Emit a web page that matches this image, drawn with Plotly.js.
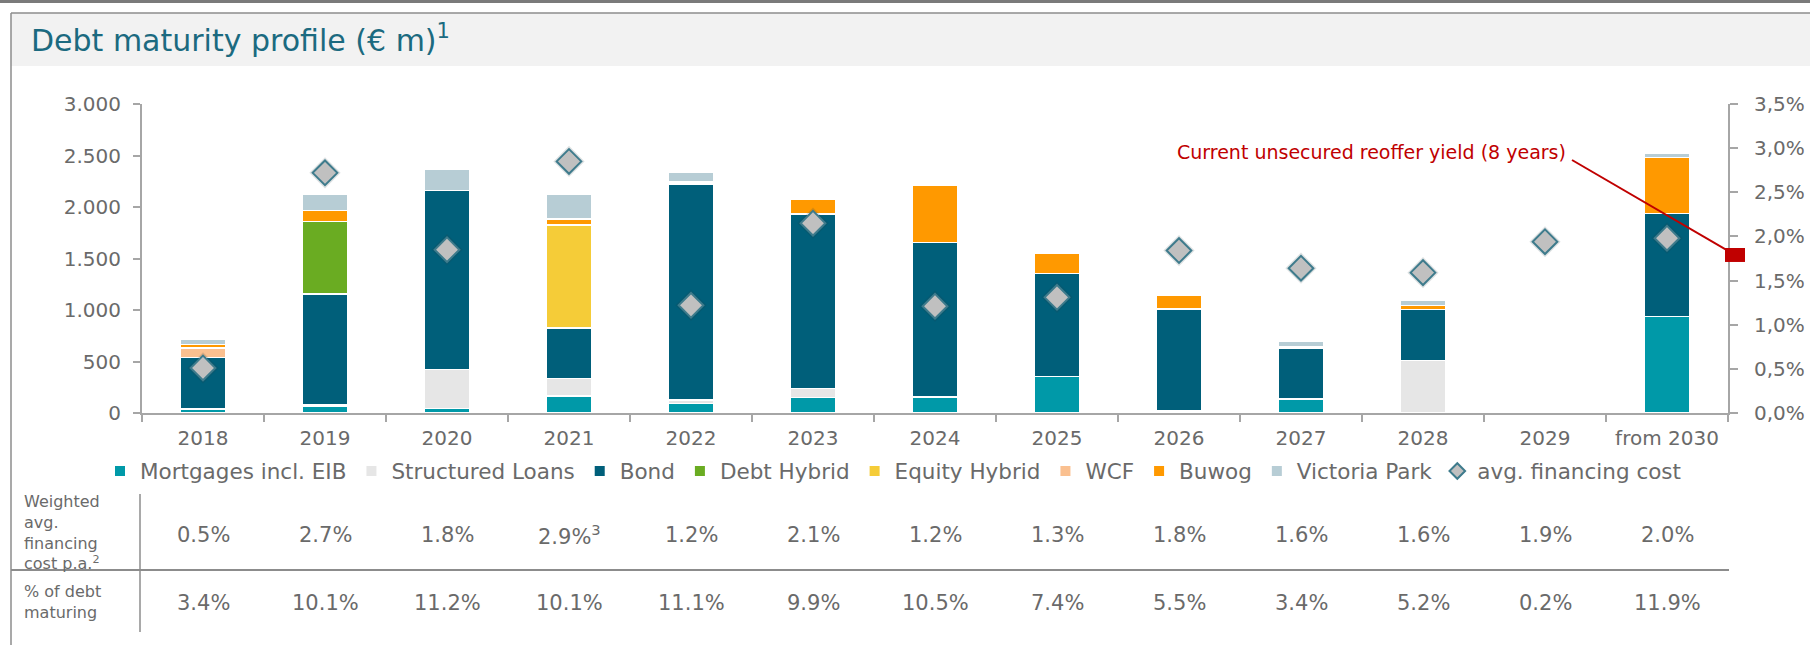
<!DOCTYPE html>
<html>
<head>
<meta charset="utf-8">
<script src="https://cdn.plot.ly/plotly-3.0.1.min.js"></script>
<style>html,body{margin:0;padding:0;background:#fff;}#chart{width:1810px;height:645px;}</style>
</head>
<body>
<div id="chart"></div>
<script>
// ---- data ----
var categories = ["2018","2019","2020","2021","2022","2023","2024","2025","2026","2027","2028","2029","from 2030"];
var mortgages      = [40, 70, 45, 165, 90, 150, 155, 355, 20, 135, 0, 0, 935];
var structuredLoans= [0, 10, 375, 170, 35, 90, 0, 0, 0, 0, 508, 12, 0];
var bond           = [500, 1075, 1738, 490, 2100, 1692, 1500, 1000, 990, 496, 495, 0, 1000];
var debtHybrid     = [0, 705, 0, 0, 0, 0, 0, 0, 0, 0, 0, 0, 0];
var equityHybrid   = [0, 0, 0, 1000, 0, 0, 0, 0, 0, 0, 0, 0, 0];
var wcf            = [90, 0, 0, 0, 20, 0, 0, 0, 0, 10, 0, 0, 0];
var buwog          = [35, 105, 0, 58, 0, 145, 560, 200, 130, 0, 40, 18, 545];
var victoriaPark   = [50, 155, 205, 242, 95, 0, 0, 0, 0, 55, 52, 0, 40];
var avgCost        = [0.51, 2.72, 1.85, 2.85, 1.22, 2.15, 1.21, 1.31, 1.84, 1.64, 1.59, 1.94, 1.98];
var reofferYield   = 1.79;
var costLabels     = ["0.5%","2.7%","1.8%","2.9%<sup>3</sup>","1.2%","2.1%","1.2%","1.3%","1.8%","1.6%","1.6%","1.9%","2.0%"];
var maturingLabels = ["3.4%","10.1%","11.2%","10.1%","11.1%","9.9%","10.5%","7.4%","5.5%","3.4%","5.2%","0.2%","11.9%"];

var FONT = "DejaVu Sans, Verdana, sans-serif";
var GREY = "#6a6a6a";

function barTrace(name, vals, color){
  return {type:"bar", name:name, x:categories, y:vals,
    marker:{color:color, line:{color:"#ffffff", width:1.5}},
    hoverinfo:"x+y+name"};
}
var traces = [
  barTrace("Mortgages incl. EIB", mortgages, "#0099a8"),
  barTrace("Structured Loans", structuredLoans, "#e6e6e6"),
  barTrace("Bond", bond, "#005f7a"),
  barTrace("Debt Hybrid", debtHybrid, "#6aac22"),
  barTrace("Equity Hybrid", equityHybrid, "#f5cc38"),
  barTrace("WCF", wcf, "#fac090"),
  barTrace("Buwog", buwog, "#ff9900"),
  barTrace("Victoria Park", victoriaPark, "#b7cdd5"),
  {type:"scatter", mode:"markers", name:"shadow", showlegend:false, hoverinfo:"skip",
    x:categories, y:avgCost, yaxis:"y2", cliponaxis:false,
    marker:{symbol:"diamond", size:24, color:"rgba(40,60,70,0.16)", line:{width:0}}},
  {type:"scatter", mode:"markers", name:"avg. financing cost", x:categories, y:avgCost, yaxis:"y2",
    cliponaxis:false,
    marker:{symbol:"diamond", size:19, color:"#c0c0c0", line:{color:"#3e7b8c", width:2}}}
];

// pixel helpers for layout positioning (plot area: x 142..1728, y 104..413)
function px(x){ return (x-142)/1586; }
function py(y){ return (413-y)/309; }

var annotations = [];
for (var i=0;i<categories.length;i++){
  annotations.push({xref:"x", yref:"paper", x:i, y:py(535), text:costLabels[i], showarrow:false,
    font:{family:FONT, size:21, color:GREY}, xanchor:"center", yanchor:"middle"});
  annotations.push({xref:"x", yref:"paper", x:i, y:py(603), text:maturingLabels[i], showarrow:false,
    font:{family:FONT, size:21, color:GREY}, xanchor:"center", yanchor:"middle"});
}
annotations.push({xref:"paper", yref:"paper", x:px(22), y:py(532), xanchor:"left", yanchor:"middle", align:"left",
  text:"Weighted<br>avg.<br>financing<br>cost p.a.<sup>2</sup>", showarrow:false,
  font:{family:FONT, size:16, color:GREY}});
annotations.push({xref:"paper", yref:"paper", x:px(22), y:py(602), xanchor:"left", yanchor:"middle", align:"left",
  text:"% of debt<br>maturing", showarrow:false, font:{family:FONT, size:16, color:GREY}});
annotations.push({xref:"paper", yref:"paper", x:px(1568), y:py(152), xanchor:"right", yanchor:"middle",
  text:"Current unsecured reoffer yield (8 years)", showarrow:false, font:{family:FONT, size:19, color:"#c00000"}});

var shapes = [
  {type:"rect", xref:"paper", yref:"paper", x0:px(0), x1:px(1810), y0:py(0), y1:py(3), fillcolor:"#7a7a7a", line:{width:0}, layer:"below"},
  {type:"rect", xref:"paper", yref:"paper", x0:px(11), x1:px(1810), y0:py(13), y1:py(66), fillcolor:"#f2f2f2", line:{width:0}, layer:"below"},
  {type:"line", xref:"paper", yref:"paper", x0:px(11), x1:px(1810), y0:py(13), y1:py(13), line:{color:"#8c8c8c", width:1.5}},
  {type:"line", xref:"paper", yref:"paper", x0:px(11), x1:px(11), y0:py(13), y1:py(645), line:{color:"#8c8c8c", width:1.5}},
  {type:"line", xref:"paper", yref:"paper", x0:px(140), x1:px(140), y0:py(494), y1:py(632), line:{color:"#8c8c8c", width:1.5}},
  {type:"line", xref:"paper", yref:"paper", x0:px(11), x1:px(1729), y0:py(570), y1:py(570), line:{color:"#8c8c8c", width:2}},
  {type:"line", xref:"paper", yref:"y2", x0:px(1572), x1:px(1735), y0:py(160)*3.5, y1:reofferYield, line:{color:"#c00000", width:2}},
  {type:"rect", xref:"paper", yref:"y2", xsizemode:"pixel", ysizemode:"pixel", xanchor:px(1735), yanchor:reofferYield,
    x0:-10, x1:10, y0:-7, y1:7, fillcolor:"#c00000", line:{width:0}}
];

var layout = {
  width:1810, height:645,
  margin:{l:142, r:82, t:104, b:232, pad:0},
  paper_bgcolor:"#ffffff", plot_bgcolor:"#ffffff",
  separators:",.",
  barmode:"stack", bargap:0.62,
  font:{family:FONT, size:20, color:GREY},
  title:{text:"Debt maturity profile (€ m)<sup>1</sup>", x:31/1810, xanchor:"left", xref:"container",
    y:1-40/645, yanchor:"middle", yref:"container", font:{family:FONT, size:30, color:"#1b6a80"}},
  xaxis:{type:"category", range:[-0.5, 12.5], autorange:false, tickson:"boundaries", ticks:"outside", ticklen:7, tickwidth:2, tickcolor:"#a6a6a6",
    showline:true, linecolor:"#a6a6a6", linewidth:2, showgrid:false, zeroline:false, tickangle:0,
    tickfont:{family:FONT, size:20, color:GREY}, ticklabelstandoff:6},
  yaxis:{range:[0,3000], autorange:false, dtick:500, tickformat:",d", ticks:"outside", ticklen:7, tickwidth:2, tickcolor:"#a6a6a6",
    showline:true, linecolor:"#a6a6a6", linewidth:2, showgrid:false, zeroline:false,
    tickfont:{family:FONT, size:20, color:GREY}, ticklabelstandoff:8},
  yaxis2:{range:[0,3.5], autorange:false, dtick:0.5, tickformat:".1f", ticksuffix:"%", overlaying:"y", side:"right",
    ticks:"outside", ticklen:8, tickwidth:2, tickcolor:"#a6a6a6", showline:true, linecolor:"#a6a6a6", linewidth:2,
    showgrid:false, zeroline:false, tickfont:{family:FONT, size:20, color:GREY}, ticklabelstandoff:12},
  showlegend:true,
  legend:{orientation:"h", x:px(893), xanchor:"center", y:py(471), yanchor:"middle",
    font:{family:FONT, size:21.5, color:GREY}, itemwidth:30, itemsizing:"constant", traceorder:"normal", tracegroupgap:0,
    bgcolor:"rgba(0,0,0,0)"},
  annotations:annotations,
  shapes:shapes
};

Plotly.newPlot("chart", traces, layout, {displayModeBar:false, staticPlot:true});
</script>
</body>
</html>
